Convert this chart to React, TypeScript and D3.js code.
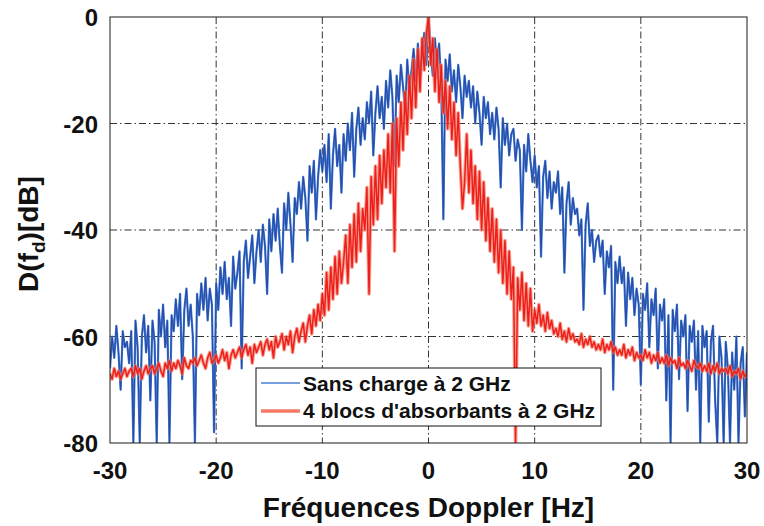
import React from "react";
import * as d3 from "d3";

// Doppler frequency sampling (Hz)
const freqStart = -30;
const freqStep = 0.2;

// Sans charge à 2 GHz (dB), one value per 0.2 Hz from -30 to 30
const sansCharge = [
  -66, -60, -64, -58, -63, -70, -59, -62, -61, -65,
  -59, -80, -57, -62, -80, -60, -56, -63, -58, -72,
  -57, -61, -80, -55, -60, -54, -62, -57, -80, -56,
  -59, -53, -58, -52, -68, -55, -51, -58, -54, -60,
  -80, -52, -56, -50, -55, -49, -57, -51, -54, -78,
  -50, -55, -47, -52, -46, -53, -49, -58, -45, -51,
  -48, -44, -66, -46, -42, -49, -45, -41, -50, -44,
  -40, -46, -39, -43, -52, -38, -44, -37, -42, -36,
  -43, -48, -35, -40, -33, -39, -46, -34, -37, -31,
  -36, -30, -34, -42, -28, -33, -27, -38, -30, -25,
  -29, -24, -31, -22, -36, -26, -21, -28, -24, -33,
  -22, -27, -20, -25, -18, -30, -21, -17, -24, -19,
  -23, -16, -20, -14, -26, -18, -13, -19, -15, -21,
  -12, -17, -10, -15, -28, -11, -16, -9, -13, -18,
  -8, -14, -10, -6, -12, -5, -11, -7, -3, -9,
  0, -6, -11, -4, -9, -5, -13, -38, -8, -12,
  -7, -14, -10, -16, -9, -13, -19, -11, -15, -12,
  -17, -13, -20, -14, -18, -24, -15, -19, -16, -22,
  -18, -23, -17, -21, -32, -19, -24, -20, -26, -22,
  -21, -27, -23, -25, -40, -24, -29, -22, -27, -31,
  -26, -32, -28, -45, -30, -27, -34, -29, -36, -31,
  -33, -29, -37, -32, -48, -35, -31, -39, -34, -37,
  -36, -41, -38, -55, -39, -35, -43, -40, -46, -42,
  -41, -45, -42, -52, -44, -47, -43, -70, -46, -50,
  -45, -50, -47, -58, -48, -53, -49, -56, -51, -54,
  -69, -52, -55, -50, -62, -53, -56, -51, -66, -54,
  -57, -53, -72, -56, -80, -55, -59, -54, -68, -57,
  -60, -56, -74, -58, -61, -57, -70, -59, -80, -58,
  -62, -59, -76, -61, -58, -72, -80, -60, -64, -80,
  -61, -66, -80, -63, -70, -60, -80, -65, -62, -75,
  -63,
];

// 4 blocs d'absorbants à 2 GHz (dB), one value per 0.2 Hz from -30 to 30
const absorbants = [
  -67, -68, -66, -67.5, -66.5, -68, -67, -66, -67.5, -66.5,
  -66, -67.5, -65.5, -67, -66, -68, -66.5, -65.5, -67, -66,
  -65.5, -67, -66, -65, -66.5, -67.5, -65, -66, -64.5, -66.5,
  -65, -66, -64.5, -65.5, -67, -64, -65.5, -66, -64.5, -65,
  -64, -65.5, -64.5, -63.5, -65, -66, -64, -63, -65, -64.5,
  -63.5, -65, -64, -62.5, -64.5, -63, -66, -63.5, -62.5, -64,
  -63, -62, -64, -62.5, -61.5, -63.5, -62, -65, -61.5, -63,
  -62, -61, -63.5, -61.5, -60.5, -62.5, -61, -64, -60, -62,
  -61, -59.5, -62.5, -60, -61.5, -59, -63, -60, -58.5, -61,
  -59, -57.5, -61, -58, -56, -59.5, -55, -58, -54, -57,
  -52, -56, -48, -55, -47, -53, -45, -52, -44, -50,
  -46, -41, -50, -39, -47, -37, -46, -35, -44, -36,
  -40, -32, -52, -30, -39, -28, -38, -26, -35, -25,
  -32, -22, -33, -20, -44, -19, -28, -16, -25, -14,
  -22, -11, -19, -8, -17, -6, -14, -4, -10, -3,
  0, -9, -4, -14, -6, -16, -9, -18, -12, -21,
  -13, -23, -16, -26, -18, -28, -36, -31, -22, -33,
  -25, -35, -28, -38, -29, -40, -31, -42, -34, -44,
  -36, -46, -38, -48, -40, -50, -42, -52, -44, -53,
  -47, -80, -49, -55, -48, -57, -50, -58, -51, -59,
  -55, -57.5, -54, -58, -56, -59, -55.5, -58.5, -57, -59.5,
  -58.5, -60, -57.5, -60.5, -59, -61, -58.5, -60.5, -59.5, -61,
  -60.5, -61.5, -59.5, -62, -60.5, -61.5, -60, -62, -61, -62.5,
  -61.5, -62.5, -60.5, -63, -61.5, -62.5, -61, -63, -62, -63.5,
  -62.5, -63.5, -61.5, -64, -62.5, -63.5, -62, -64.5, -63, -64,
  -63.5, -64.5, -62.5, -64, -63, -65, -63.5, -64.5, -63, -65,
  -64, -65, -63.5, -65.5, -64, -65, -64.5, -66, -64, -65.5,
  -65, -66, -64.5, -65.5, -66.5, -64.5, -65.5, -66, -65, -66.5,
  -65.5, -66.5, -65, -67, -65.5, -66.5, -65, -67, -66, -66.5,
  -66, -67, -65.5, -67.5, -66.5, -67, -66, -68, -66.5, -67.5,
  -67,
];

const xTicks = [-30, -20, -10, 0, 10, 20, 30];
const yTicks = [0, -20, -40, -60, -80];
const legendLabels = ["Sans charge à 2 GHz", "4 blocs d'absorbants à 2 GHz"];

export default function App() {
  const W = 764;
  const H = 526;
  const left = 110;
  const right = 747;
  const top = 17;
  const bottom = 443;

  const x = d3.scaleLinear().domain([-30, 30]).range([left, right]);
  const y = d3.scaleLinear().domain([-80, 0]).range([bottom, top]);

  const freqs = d3.range(sansCharge.length).map((i) => freqStart + i * freqStep);
  const line = d3
    .line<[number, number]>()
    .x((d) => x(d[0]))
    .y((d) => y(d[1]));

  const bluePath = line(freqs.map((f, i) => [f, sansCharge[i]]) as [number, number][]) || "";
  const redPath =
    line(freqs.slice(0, absorbants.length).map((f, i) => [f, absorbants[i]]) as [number, number][]) || "";

  const font = "'Liberation Sans', Arial, Helvetica, sans-serif";
  const grid = "7,3,1.5,3";

  const legX = 256;
  const legY = 368;
  const legW = 345;
  const legH = 58;

  return (
    <svg
      width={W}
      height={H}
      style={{ position: "absolute", left: 0, top: 0, background: "#fff" }}
      fontFamily={font}
    >
      <defs>
        <clipPath id="plotClip">
          <rect x={left} y={top} width={right - left} height={bottom - top} />
        </clipPath>
      </defs>
      <rect x={0} y={0} width={W} height={H} fill="#fff" />

      {/* grid */}
      {xTicks
        .filter((t) => t > -30 && t < 30)
        .map((t) => (
          <line key={"gx" + t} x1={x(t)} x2={x(t)} y1={top} y2={bottom} stroke="#333" strokeWidth={1} strokeDasharray={grid} />
        ))}
      {yTicks
        .filter((t) => t > -80 && t < 0)
        .map((t) => (
          <line key={"gy" + t} x1={left} x2={right} y1={y(t)} y2={y(t)} stroke="#333" strokeWidth={1} strokeDasharray={grid} />
        ))}

      {/* data */}
      <g clipPath="url(#plotClip)">
        <path d={bluePath} fill="none" stroke="#3f7ed2" strokeWidth={2.2} strokeLinejoin="round" />
        <path d={bluePath} fill="none" stroke="#2a4aa8" strokeWidth={1.1} strokeLinejoin="round" />
        <path d={redPath} fill="none" stroke="#f47a66" strokeWidth={3.6} strokeOpacity={0.7} strokeLinejoin="round" />
        <path d={redPath} fill="none" stroke="#ee1f1a" strokeWidth={1.5} strokeLinejoin="round" />
      </g>

      {/* frame */}
      <rect x={left} y={top} width={right - left} height={bottom - top} fill="none" stroke="#1a1a1a" strokeWidth={1} />

      {/* tick labels */}
      {xTicks.map((t) => (
        <text key={"tx" + t} x={x(t)} y={479} textAnchor="middle" fontSize={24} fontWeight="bold" fill="#111">
          {t}
        </text>
      ))}
      {yTicks.map((t) => (
        <text key={"ty" + t} x={98} y={y(t) + 9} textAnchor="end" fontSize={24} fontWeight="bold" fill="#111">
          {t}
        </text>
      ))}

      {/* axis titles */}
      <text x={(left + right) / 2} y={517} textAnchor="middle" fontSize={28} fontWeight="bold" fill="#111">
        Fréquences Doppler [Hz]
      </text>
      <text
        transform={`translate(38, ${(top + bottom) / 2 + 4}) rotate(-90)`}
        textAnchor="middle"
        fontSize={28}
        fontWeight="bold"
        fill="#111"
      >
        D(f<tspan fontSize={19} dy={7}>d</tspan>
        <tspan dy={-7}>)[dB]</tspan>
      </text>

      {/* legend */}
      <rect x={legX} y={legY} width={legW} height={legH} fill="#fff" stroke="#111" strokeWidth={1} />
      <line x1={legX + 5} x2={legX + 44} y1={legY + 15} y2={legY + 15} stroke="#4a7fd6" strokeWidth={1.5} />
      <line x1={legX + 5} x2={legX + 44} y1={legY + 43} y2={legY + 43} stroke="#f47a66" strokeWidth={3.5} />
      <text x={legX + 47} y={legY + 23} fontSize={21} fontWeight="bold" fill="#111">
        {legendLabels[0]}
      </text>
      <text x={legX + 47} y={legY + 50} fontSize={21} fontWeight="bold" fill="#111">
        {legendLabels[1]}
      </text>
    </svg>
  );
}
